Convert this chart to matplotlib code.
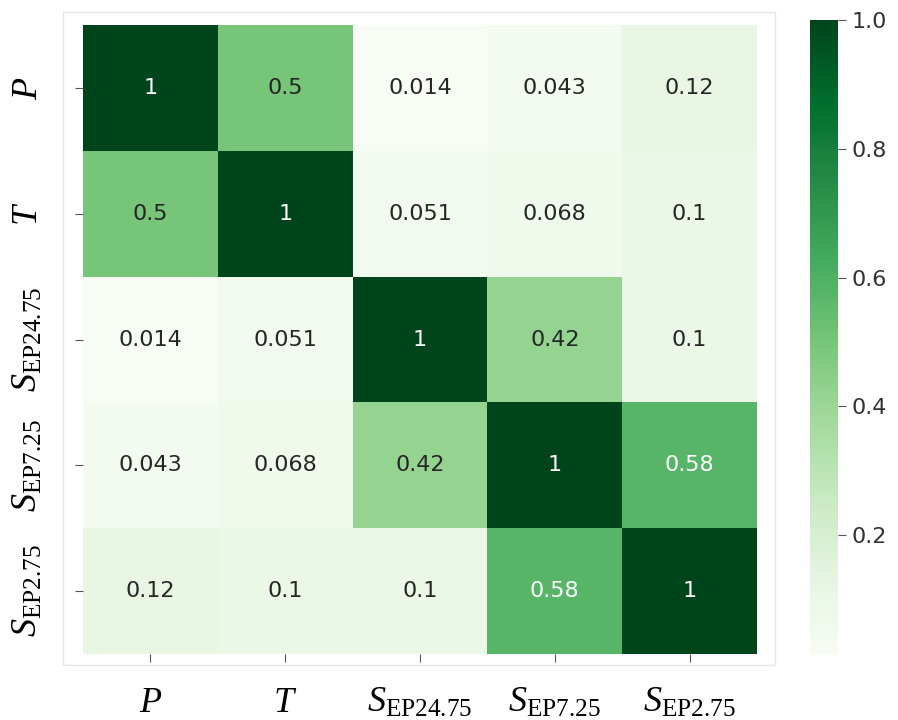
import matplotlib
matplotlib.use("Agg")
import matplotlib.pyplot as plt
import numpy as np
import seaborn as sns

labels = [r"$P$", r"$T$", r"$S_{\mathrm{EP24.75}}$", r"$S_{\mathrm{EP7.25}}$", r"$S_{\mathrm{EP2.75}}$"]
row_P = [1, 0.5, 0.014, 0.043, 0.12]
row_T = [0.5, 1, 0.051, 0.068, 0.1]
row_S24 = [0.014, 0.051, 1, 0.42, 0.1]
row_S7 = [0.043, 0.068, 0.42, 1, 0.58]
row_S2 = [0.12, 0.1, 0.1, 0.58, 1]
corr = np.array([row_P, row_T, row_S24, row_S7, row_S2])

plt.rcParams['mathtext.fontset'] = 'custom'
plt.rcParams['mathtext.rm'] = 'Liberation Serif'
plt.rcParams['mathtext.it'] = 'Liberation Serif:italic'

fig = plt.figure(figsize=(8.98, 7.2), dpi=100)
ax = fig.add_axes([83/898, 1 - 654/720, (757-83)/898, (654-25)/720])
cax = fig.add_axes([810/898, 1 - 655/720, 28/898, (655-20)/720])

sns.heatmap(corr, annot=True, cmap="Greens", ax=ax, cbar_ax=cax,
            annot_kws={"fontsize": 16}, xticklabels=labels, yticklabels=labels)

ax.tick_params(axis='x', length=6, color='#555555', labelsize=26, pad=16)
ax.tick_params(axis='y', length=6, color='#555555', labelsize=26, pad=22)
ax.set_yticklabels(labels, rotation=90, va='center')
ax.set_xticklabels(labels, rotation=0)
cax.tick_params(labelsize=16, length=6, color='#555555', labelcolor='#333333')
cax.set_yticks([0.2, 0.4, 0.6, 0.8, 1.0])

# faint frame around plot region
from matplotlib.patches import Rectangle
fig.patches.append(Rectangle((63/898, 1 - 665/720), (775-63)/898, (665-12)/720,
                             transform=fig.transFigure, fill=False,
                             edgecolor='#e6e6e6', linewidth=1))

fig.savefig("out.png", dpi=100)
